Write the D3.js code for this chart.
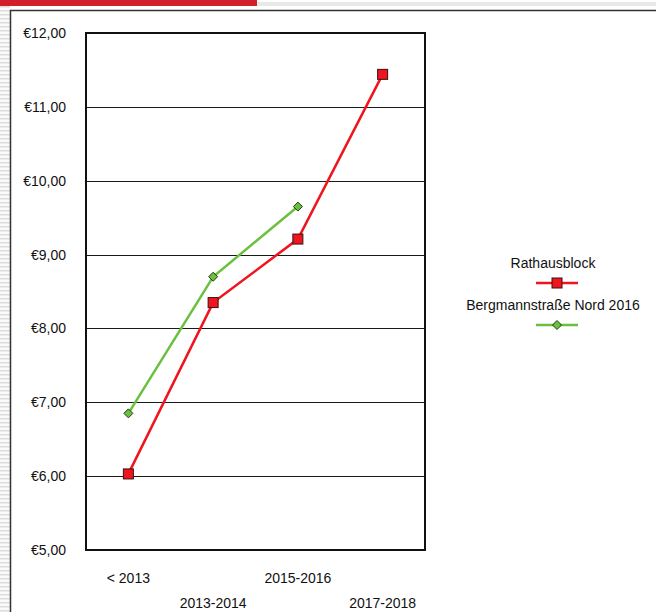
<!DOCTYPE html>
<html>
<head>
<meta charset="utf-8">
<script src="https://cdn.jsdelivr.net/npm/d3@7"></script>
<style>
    body { margin: 0; background: #fff; }
    svg { display: block; font-family: "Liberation Sans", Arial, sans-serif; }
</style>
</head>
<body>
<div id="chart"></div>
<script>
var categories = ['< 2013', '2013-2014', '2015-2016', '2017-2018'];
var rathausblock = [6.03, 8.35, 9.21, 11.44];
var bergmann = [6.85, 8.70, 9.65, null];
var seriesNames = ['Rathausblock', 'Bergmannstraße Nord 2016'];
var yTicks = [5, 6, 7, 8, 9, 10, 11, 12];

var width = 656, height = 612;
var plot = {left: 86, top: 33, right: 425, bottom: 550};

var svg = d3.select('#chart').append('svg')
    .attr('width', width)
    .attr('height', height);

// striped page edge on the left
var defs = svg.append('defs');
var pat = defs.append('pattern')
    .attr('id', 'stripes')
    .attr('width', 10).attr('height', 4)
    .attr('patternUnits', 'userSpaceOnUse');
pat.append('rect').attr('width', 10).attr('height', 4).attr('fill', '#fafafa');
pat.append('rect').attr('y', 2).attr('width', 10).attr('height', 1.5).attr('fill', '#dcdcdc');
svg.append('rect')
    .attr('x', 0).attr('y', 6)
    .attr('width', 10).attr('height', height - 6)
    .attr('fill', 'url(#stripes)');

// top bars
svg.append('rect').attr('x', 257).attr('y', 2).attr('width', width - 257).attr('height', 4).attr('fill', '#e8e8e8');
svg.append('rect').attr('x', 0).attr('y', 0).attr('width', 257).attr('height', 6).attr('fill', '#d2202a');

// outer chart frame
svg.append('path')
    .attr('d', 'M10.5,' + height + 'V10.5H' + width)
    .attr('fill', 'none')
    .attr('stroke', '#333')
    .attr('stroke-width', 1.5);

var x = d3.scaleBand()
    .domain(categories)
    .range([plot.left, plot.right]);

var y = d3.scaleLinear()
    .domain([5, 12])
    .range([plot.bottom, plot.top]);

// gridlines
svg.append('g')
    .selectAll('line')
    .data(yTicks.filter(function(d){ return d > 5 && d < 12; }))
    .enter().append('line')
    .attr('x1', plot.left).attr('x2', plot.right)
    .attr('y1', function(d){ return Math.round(y(d)) + 0.5; })
    .attr('y2', function(d){ return Math.round(y(d)) + 0.5; })
    .attr('stroke', '#1a1a1a')
    .attr('stroke-width', 1);

// plot frame
svg.append('rect')
    .attr('x', plot.left).attr('y', plot.top)
    .attr('width', plot.right - plot.left)
    .attr('height', plot.bottom - plot.top)
    .attr('fill', 'none')
    .attr('stroke', '#111')
    .attr('stroke-width', 2);

// y axis labels
var fmt = function(d){ return '€' + d3.format('.2f')(d).replace('.', ','); };
var yAxis = d3.axisLeft(y)
    .tickValues(yTicks)
    .tickSize(0)
    .tickPadding(20)
    .tickFormat(fmt);
var yAxisG = svg.append('g')
    .attr('transform', 'translate(' + plot.left + ',0)')
    .call(yAxis);
yAxisG.select('.domain').remove();
yAxisG.selectAll('text')
    .attr('font-size', 14)
    .attr('font-family', '"Liberation Sans", Arial, sans-serif')
    .attr('fill', '#111');

// x axis labels, staggered
var xAxis = d3.axisBottom(x).tickSize(0).tickPadding(0);
var xAxisG = svg.append('g')
    .attr('transform', 'translate(0,' + plot.bottom + ')')
    .call(xAxis);
xAxisG.select('.domain').remove();
xAxisG.selectAll('text')
    .attr('font-size', 14)
    .attr('font-family', '"Liberation Sans", Arial, sans-serif')
    .attr('fill', '#111')
    .attr('dy', null)
    .attr('y', function(d, i){ return i % 2 === 0 ? 33 : 58; });

var line = d3.line()
    .defined(function(d){ return d.v != null; })
    .x(function(d){ return x(d.c) + x.bandwidth() / 2; })
    .y(function(d){ return y(d.v); });

function toPoints(values) {
    return values.map(function(v, i){ return {c: categories[i], v: v}; });
}

var series = [
    {name: seriesNames[0], points: toPoints(rathausblock), color: '#f0141e', shape: 'square'},
    {name: seriesNames[1], points: toPoints(bergmann), color: '#6cc040', shape: 'diamond'}
];

function drawMarker(g, shape, color) {
    if (shape === 'square') {
        g.append('rect')
            .attr('x', -5).attr('y', -5)
            .attr('width', 10).attr('height', 10)
            .attr('fill', color)
            .attr('stroke', '#3a1010')
            .attr('stroke-width', 1);
    } else {
        g.append('path')
            .attr('d', 'M0,-4.5L4.5,0L0,4.5L-4.5,0Z')
            .attr('fill', color)
            .attr('stroke', '#1f3a10')
            .attr('stroke-width', 1);
    }
}

// draw green first, red on top
series.slice().reverse().forEach(function(s){
    svg.append('path')
        .datum(s.points)
        .attr('d', line)
        .attr('fill', 'none')
        .attr('stroke', s.color)
        .attr('stroke-width', 2.5);
    s.points.filter(function(d){ return d.v != null; }).forEach(function(d){
        var g = svg.append('g')
            .attr('transform', 'translate(' + (x(d.c) + x.bandwidth() / 2) + ',' + y(d.v) + ')');
        drawMarker(g, s.shape, s.color);
    });
});

// legend
var legendX = 557;
series.forEach(function(s, i){
    var top = 268 + i * 42;
    svg.append('text')
        .attr('x', legendX - 4).attr('y', top)
        .attr('text-anchor', 'middle')
        .attr('font-size', 14)
        .attr('fill', '#111')
        .text(s.name);
    svg.append('line')
        .attr('x1', legendX - 21).attr('x2', legendX + 21)
        .attr('y1', top + 15).attr('y2', top + 15)
        .attr('stroke', s.color)
        .attr('stroke-width', 2.5);
    var g = svg.append('g').attr('transform', 'translate(' + legendX + ',' + (top + 15) + ')');
    drawMarker(g, s.shape, s.color);
});
</script>
</body>
</html>
